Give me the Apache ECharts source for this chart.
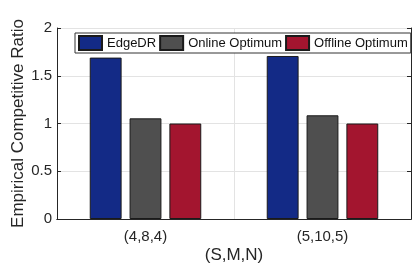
<!DOCTYPE html>
<html>
<head>
<meta charset="utf-8">
<script src="https://cdn.jsdelivr.net/npm/echarts@6/dist/echarts.min.js"></script>
<style>
  html, body { margin: 0; padding: 0; background: #fff; }
  #chart { width: 412px; height: 266px; }
</style>
</head>
<body>
<div id="chart"></div>
<script>
const categories = ['(4,8,4)', '(5,10,5)']
const edgeDR = [1.69, 1.707]
const onlineOpt = [1.054, 1.086]
const offlineOpt = [1.0, 1.0]
const yTicks = [0, 0.5, 1, 1.5, 2]

const font = 'Liberation Sans, Arial, sans-serif'
const axisColor = '#262626'
const gridColor = '#e3e3e3'

const chart = echarts.init(document.getElementById('chart'), null, { renderer: 'canvas' })

const barStyle = (color) => ({
  color: color,
  borderColor: '#1a1a1a',
  borderWidth: 1
})

const option = {
  backgroundColor: '#fff',
  animation: false,
  textStyle: { fontFamily: font },
  legend: {
    left: 75,
    top: 33,
    padding: [2, 3, 2, 3],
    itemGap: 3,
    itemWidth: 23,
    itemHeight: 14,
    icon: 'rect',
    borderColor: '#333',
    borderWidth: 1,
    backgroundColor: '#fff',
    textStyle: { fontFamily: font, fontSize: 13, color: '#111' },
    data: ['EdgeDR', 'Online Optimum', 'Offline Optimum']
  },
  grid: {
    left: 57,
    right: 1,
    top: 28,
    bottom: 47,
    containLabel: false,
    outerBoundsMode: 'none'
  },
  xAxis: [
    {
      type: 'category',
      data: categories,
      name: '(S,M,N)',
      nameLocation: 'middle',
      nameGap: 28,
      nameMoveOverlap: false,
      nameTextStyle: { fontFamily: font, fontSize: 17, color: '#262626' },
      axisLine: { lineStyle: { color: axisColor, width: 1 } },
      axisTick: { inside: true, length: 4, alignWithLabel: true, lineStyle: { color: axisColor } },
      axisLabel: { fontFamily: font, fontSize: 15, color: '#262626', margin: 10 },
      splitLine: { show: true, lineStyle: { color: gridColor } }
    },
    {
      type: 'category',
      data: categories,
      position: 'top',
      axisLine: { lineStyle: { color: axisColor, width: 1 } },
      axisTick: { inside: true, length: 4, alignWithLabel: true, lineStyle: { color: axisColor } },
      axisLabel: { show: false },
      splitLine: { show: false }
    }
  ],
  yAxis: [
    {
      type: 'value',
      min: 0,
      max: 2,
      interval: 0.5,
      name: 'Empirical Competitive Ratio',
      nameLocation: 'middle',
      nameGap: 30,
      nameMoveOverlap: false,
      nameTextStyle: { fontFamily: font, fontSize: 17, color: '#262626' },
      axisLine: { show: true, lineStyle: { color: axisColor, width: 1 } },
      axisTick: { show: true, inside: true, length: 4, lineStyle: { color: axisColor } },
      axisLabel: {
        fontFamily: font,
        fontSize: 15,
        color: '#262626',
        margin: 5,
        formatter: (v) => yTicks.includes(v) ? String(v) : ''
      },
      splitLine: { show: true, lineStyle: { color: gridColor } }
    },
    {
      type: 'value',
      min: 0,
      max: 2,
      interval: 0.5,
      position: 'right',
      axisLine: { show: true, lineStyle: { color: axisColor, width: 1 } },
      axisTick: { show: true, inside: true, length: 4, lineStyle: { color: axisColor } },
      axisLabel: { show: false },
      splitLine: { show: false }
    }
  ],
  series: [
    {
      name: 'EdgeDR',
      type: 'bar',
      data: edgeDR,
      barWidth: '18%',
      barGap: '25%',
      itemStyle: barStyle('#132a86')
    },
    {
      name: 'Online Optimum',
      type: 'bar',
      data: onlineOpt,
      barWidth: '18%',
      barGap: '25%',
      itemStyle: barStyle('#4f4f4f')
    },
    {
      name: 'Offline Optimum',
      type: 'bar',
      data: offlineOpt,
      barWidth: '18%',
      barGap: '25%',
      itemStyle: barStyle('#a3152f')
    }
  ]
}

chart.setOption(option)
</script>
</body>
</html>
